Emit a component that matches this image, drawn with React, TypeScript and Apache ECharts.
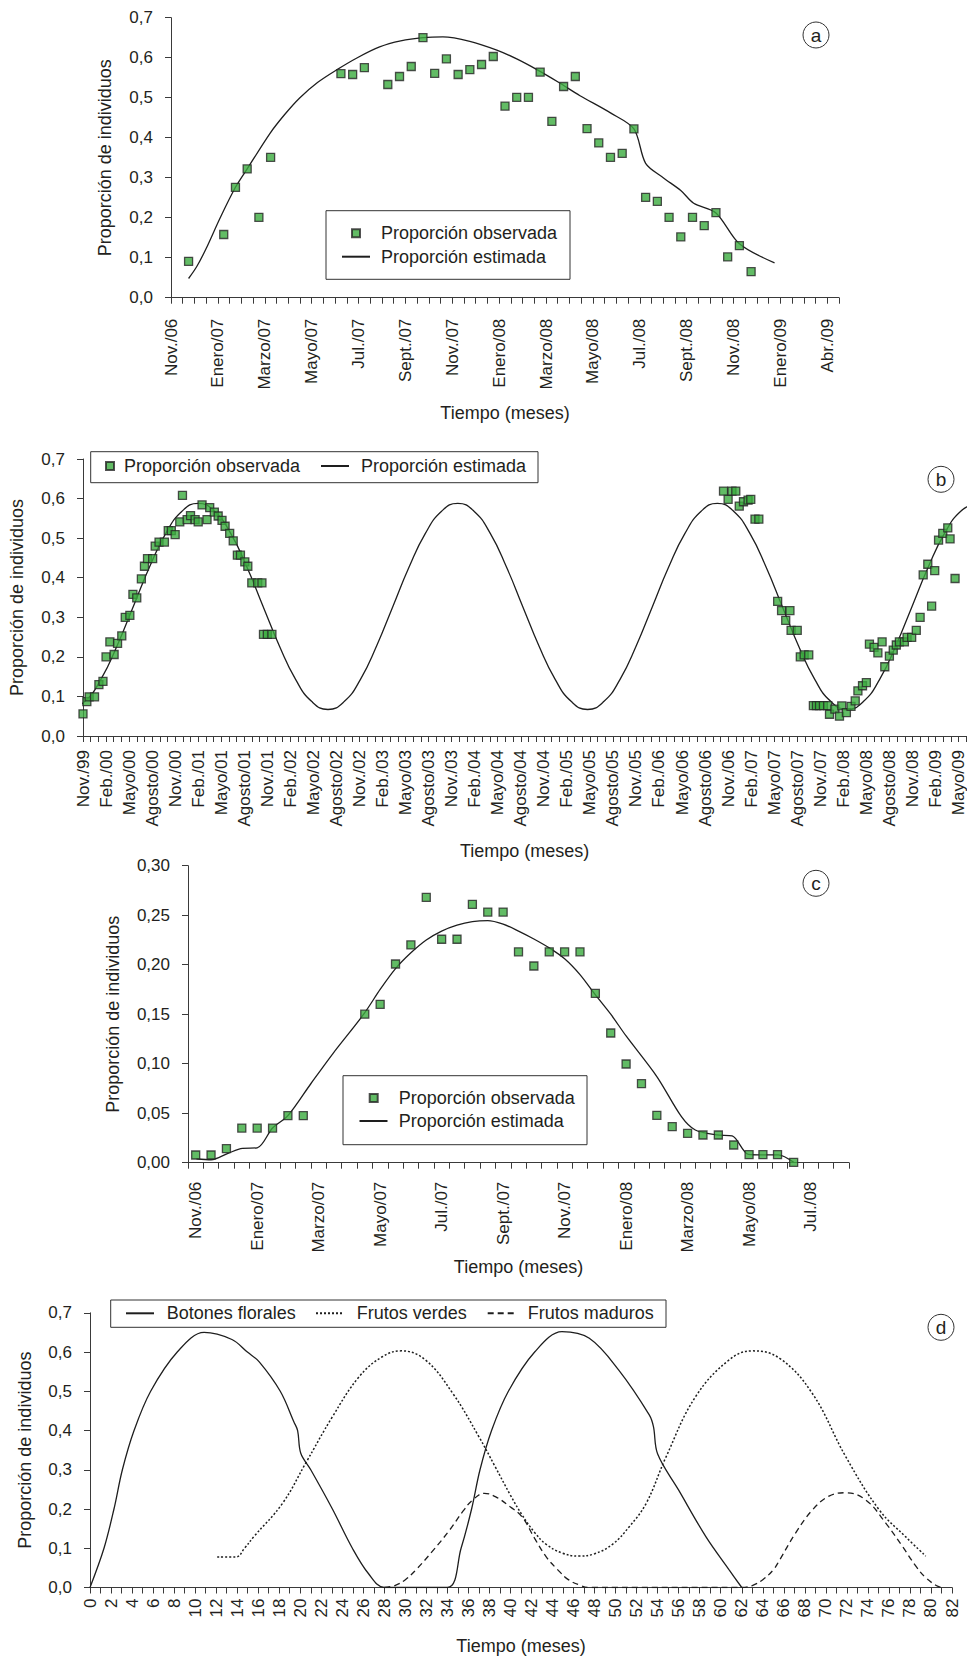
import React, { useEffect, useRef } from "react";
import * as echarts from "echarts";

const FONT = "Liberation Sans, Arial, sans-serif";
const TXT = "#231f20";
const AX = "#3a3a3a";
const GREEN = "#3bab3e";

// ---- Panel a (x in half-month ticks, 0 = Nov./06) ----
const ticksA = ["Nov./06", "Enero/07", "Marzo/07", "Mayo/07", "Jul./07", "Sept./07", "Nov./07", "Enero/08", "Marzo/08", "Mayo/08", "Jul./08", "Sept./08", "Nov./08", "Enero/09", "Abr./09"];
const obsA = [
  [1.5, 0.091], [4.5, 0.158], [5.5, 0.276], [6.5, 0.322], [7.5, 0.201], [8.5, 0.351],
  [14.5, 0.56], [15.5, 0.558], [16.5, 0.575], [18.5, 0.533], [19.5, 0.553], [20.5, 0.578],
  [21.5, 0.65], [22.5, 0.561], [23.5, 0.597], [24.5, 0.558], [25.5, 0.57], [26.5, 0.583],
  [27.5, 0.603], [28.5, 0.479], [29.5, 0.501], [30.5, 0.501], [31.5, 0.564], [32.5, 0.441],
  [33.5, 0.528], [34.5, 0.553], [35.5, 0.4225], [36.5, 0.387], [37.5, 0.351], [38.5, 0.361],
  [39.5, 0.422], [40.5, 0.251], [41.5, 0.241], [42.5, 0.201], [43.5, 0.152], [44.5, 0.201],
  [45.5, 0.18], [46.5, 0.2125], [47.5, 0.102], [48.5, 0.13], [49.5, 0.065]
];
const estA = [
  [1.5, 0.048], [2.2, 0.078], [3.0, 0.123], [4.2, 0.2], [5.5, 0.276], [6.5, 0.322], [8.45, 0.411],
  [9.7, 0.458], [11, 0.5], [12.5, 0.538], [14.1, 0.569], [15.9, 0.6], [17.8, 0.627], [19.6, 0.642],
  [21.5, 0.65], [23.2, 0.652], [25.5, 0.641], [27.8, 0.619], [29.5, 0.597], [31.3, 0.569],
  [33.1, 0.538], [34.9, 0.505], [37.5, 0.462], [39.5, 0.422], [40.5, 0.336], [42, 0.3], [43.5, 0.268],
  [44.6, 0.236], [46.5, 0.212], [48.5, 0.135], [51.5, 0.087]
];

// ---- Panel b (x in months, 0 = Nov./99) ----
const ticksB = ["Nov./99", "Feb./00", "Mayo/00", "Agosto/00", "Nov./00", "Feb./01", "Mayo/01", "Agosto/01", "Nov./01", "Feb./02", "Mayo/02", "Agosto/02", "Nov./02", "Feb./03", "Mayo/03", "Agosto/03", "Nov./03", "Feb./04", "Mayo/04", "Agosto/04", "Nov./04", "Feb./05", "Mayo/05", "Agosto/05", "Nov./05", "Feb./06", "Mayo/06", "Agosto/06", "Nov./06", "Feb./07", "Mayo/07", "Agosto/07", "Nov./07", "Feb./08", "Mayo/08", "Agosto/08", "Nov./08", "Feb./09", "Mayo/09"];
const obsB1 = [
  [0, 0.056], [0.5, 0.087], [0.8, 0.099], [1.5, 0.099], [2.07, 0.13], [2.6, 0.138], [3.0, 0.2],
  [3.5, 0.238], [4.05, 0.206], [4.5, 0.234], [5.05, 0.253], [5.5, 0.3], [6.1, 0.305], [6.5, 0.358],
  [7.0, 0.349], [7.6, 0.397], [8.0, 0.429], [8.4, 0.448], [9.07, 0.448], [9.4, 0.48], [9.9, 0.49],
  [10.6, 0.49], [11.1, 0.519], [11.5, 0.519], [12.0, 0.509], [12.6, 0.541], [12.95, 0.608],
  [13.56, 0.547], [14.0, 0.557], [14.6, 0.547], [15.0, 0.541], [15.5, 0.584], [16.15, 0.547],
  [16.5, 0.577], [17.1, 0.566], [17.6, 0.556], [18.1, 0.545], [18.5, 0.53], [19.1, 0.512],
  [19.56, 0.493], [20.1, 0.457], [20.5, 0.457], [21.07, 0.44], [21.46, 0.429], [21.98, 0.387],
  [22.75, 0.387], [23.3, 0.387], [23.5, 0.257], [24.0, 0.257], [24.6, 0.257]
];
const obsB2 = [
  [83.4, 0.619], [84.0, 0.598], [84.5, 0.619], [85.0, 0.619], [85.45, 0.581], [86.0, 0.592],
  [86.6, 0.596], [86.95, 0.598], [87.5, 0.548], [88.0, 0.548], [90.45, 0.34], [90.96, 0.317],
  [91.5, 0.292], [92.05, 0.317], [92.2, 0.267], [93.0, 0.267], [93.4, 0.2], [93.9, 0.205],
  [94.5, 0.205], [95.1, 0.077], [95.5, 0.077], [95.9, 0.077], [96.4, 0.077], [96.97, 0.077],
  [97.2, 0.055], [97.9, 0.068], [98.5, 0.05], [98.8, 0.076], [99.4, 0.059], [100.0, 0.075],
  [100.55, 0.089], [100.9, 0.114], [101.5, 0.127], [102.0, 0.135], [102.4, 0.232], [103.0, 0.224],
  [103.5, 0.21], [104.05, 0.238], [104.4, 0.175], [105.0, 0.202], [105.5, 0.217], [105.9, 0.23],
  [106.3, 0.238], [106.95, 0.238], [107.3, 0.249], [107.9, 0.249], [108.5, 0.267], [109.0, 0.3],
  [109.4, 0.407], [110.0, 0.434], [110.5, 0.328], [110.9, 0.418], [111.4, 0.495], [111.95, 0.512],
  [112.6, 0.526], [112.9, 0.498], [113.55, 0.398]
];
const estB = [
  [-1.9, 0.067], [0.21, 0.087], [2.33, 0.143], [4.44, 0.228], [6.55, 0.3275], [8.66, 0.427],
  [10.78, 0.512], [12.89, 0.568], [15.0, 0.588], [17.11, 0.568], [19.23, 0.512], [21.34, 0.427],
  [23.45, 0.3275], [25.56, 0.228], [27.68, 0.143], [29.79, 0.087], [31.9, 0.067], [34.01, 0.087],
  [36.13, 0.143], [38.24, 0.228], [40.35, 0.3275], [42.46, 0.427], [44.58, 0.512], [46.69, 0.568],
  [48.8, 0.588], [50.91, 0.568], [53.03, 0.512], [55.14, 0.427], [57.25, 0.3275], [59.36, 0.228],
  [61.48, 0.143], [63.59, 0.087], [65.7, 0.067], [67.81, 0.087], [69.93, 0.143], [72.04, 0.228],
  [74.15, 0.3275], [76.26, 0.427], [78.38, 0.512], [80.49, 0.568], [82.6, 0.588], [84.71, 0.568],
  [86.83, 0.512], [88.94, 0.427], [91.05, 0.3275], [93.16, 0.228], [95.28, 0.143], [97.39, 0.087],
  [99.5, 0.067], [101.61, 0.087], [103.73, 0.143], [105.84, 0.228], [107.95, 0.3275], [110.06, 0.427],
  [112.18, 0.512], [114.29, 0.568], [116.4, 0.588]
];

// ---- Panel c (x in half-month categories, labels centred) ----
const ticksC = ["Nov./06", "Enero/07", "Marzo/07", "Mayo/07", "Jul./07", "Sept./07", "Nov./07", "Enero/08", "Marzo/08", "Mayo/08", "Jul./08"];
const obsC = [
  [0.5, 0.0078], [1.5, 0.0078], [2.5, 0.0142], [3.5, 0.035], [4.5, 0.035], [5.5, 0.035],
  [6.5, 0.0475], [7.5, 0.0475], [11.5, 0.15], [12.5, 0.16], [13.5, 0.2007], [14.5, 0.22],
  [15.5, 0.268], [16.5, 0.2257], [17.5, 0.2257], [18.5, 0.261], [19.5, 0.2532], [20.5, 0.2532],
  [21.5, 0.213], [22.5, 0.1987], [23.5, 0.213], [24.5, 0.213], [25.5, 0.213], [26.5, 0.171],
  [27.5, 0.131], [28.5, 0.0997], [29.5, 0.0798], [30.5, 0.0479], [31.5, 0.0364], [32.5, 0.0297],
  [33.5, 0.028], [34.5, 0.028], [35.5, 0.0179], [36.5, 0.0081], [37.4, 0.0081], [38.35, 0.0081],
  [39.4, 0.0004]
];
const estC = [
  [0.55, 0.004], [1.5, 0.003], [2.6, 0.0095], [3.55, 0.0145], [4.5, 0.015], [5.5, 0.035],
  [6.5, 0.0475], [8, 0.08], [9.44, 0.1105], [11.43, 0.15], [12.5, 0.175], [13.5, 0.196], [14.5, 0.212],
  [15.5, 0.225], [16.5, 0.234], [17.5, 0.24], [18.5, 0.2435], [19.5, 0.2445], [20.5, 0.241],
  [21.5, 0.234], [22.5, 0.226], [23.5, 0.217], [24.5, 0.206], [25.5, 0.19], [26.43, 0.171],
  [27.5, 0.15], [28.5, 0.128], [30.5, 0.087], [32.1, 0.0465], [33.0, 0.033], [34.4, 0.028],
  [35.4, 0.027], [36.45, 0.0085], [37.4, 0.008], [38.4, 0.008], [39.4, 0.0004]
];

// ---- Panel d (x in months) ----
const ticksD = ["0", "2", "4", "6", "8", "10", "12", "14", "16", "18", "20", "22", "24", "26", "28", "30", "32", "34", "36", "38", "40", "42", "44", "46", "48", "50", "52", "54", "56", "58", "60", "62", "64", "66", "68", "70", "72", "74", "76", "78", "80", "82"];
const botones = [
  [0, 0], [1.33, 0.1], [2.28, 0.2], [3.08, 0.3], [4.19, 0.4], [5.77, 0.5], [8.3, 0.6], [10.85, 0.65],
  [13.5, 0.632], [14.97, 0.6], [16.1, 0.575], [18.1, 0.5], [19.4, 0.422], [19.75, 0.4], [20.05, 0.342],
  [21.0, 0.3], [23.06, 0.2], [24.96, 0.1], [26.5, 0.035], [28, 0], [34, 0], [35.3, 0.1], [36.3, 0.2],
  [37.1, 0.3], [38.2, 0.4], [39.8, 0.5], [42.3, 0.6], [44.9, 0.652], [47.5, 0.635], [50.3, 0.554],
  [53.2, 0.44], [53.6, 0.41], [54.0, 0.34], [56, 0.248], [58.6, 0.129], [60.8, 0.045], [62, 0]
];
const verdes = [
  [12.1, 0.078], [13.9, 0.078], [14.7, 0.1], [15.6, 0.13], [18.3, 0.214], [20.5, 0.316], [23.06, 0.435],
  [25.6, 0.537], [27.8, 0.588], [29.6, 0.603], [31.9, 0.58], [34.5, 0.495], [37, 0.384],
  [38.5, 0.31], [40, 0.235], [41.1, 0.185], [42.3, 0.14], [43.4, 0.11], [44.9, 0.088], [46.5, 0.08],
  [48, 0.086], [49.7, 0.11], [51.3, 0.155], [52.9, 0.214], [54.8, 0.333], [57.6, 0.486], [60.8, 0.58],
  [63, 0.603], [65.6, 0.584], [68.7, 0.495], [71.9, 0.333], [75.1, 0.197], [77.6, 0.129], [79.5, 0.08]
];
const maduros = [
  [28, 0], [29, 0.005], [30, 0.02], [31, 0.045], [32.5, 0.09], [34.2, 0.146], [35.5, 0.195],
  [36.4, 0.223], [37.5, 0.24], [38.6, 0.231], [40, 0.205], [41.1, 0.18], [42.3, 0.125], [43.4, 0.078],
  [44.5, 0.045], [45.5, 0.02], [46.5, 0.007], [47.5, 0], [62, 0], [63, 0.005], [64, 0.02], [65, 0.045],
  [65.6, 0.07], [67.1, 0.138], [68.7, 0.197], [70.3, 0.233], [71.9, 0.2415], [73.8, 0.223],
  [75.7, 0.164], [77.3, 0.104], [78.6, 0.053], [79.5, 0.025], [80.5, 0.005], [81, 0]
];

const OBS = "Proporción observada";
const EST = "Proporción estimada";
const YNAME = "Proporción de individuos";
const XNAME = "Tiempo (meses)";

const axisLine = { lineStyle: { color: AX, width: 1 } };
const axisTick = { length: 6, lineStyle: { color: AX, width: 1 } };
const tickText = { fontSize: 17, fontFamily: FONT, color: TXT };
const nameText = { fontSize: 18, fontFamily: FONT, color: TXT };

function yAx(grid: number, max: number, interval: number, digits: number, gap: number) {
  return {
    type: "value", gridIndex: grid, min: 0, max, interval,
    axisLine: { show: true, ...axisLine }, axisTick, splitLine: { show: false },
    axisLabel: { ...tickText, margin: 18, formatter: (v: number) => v.toFixed(digits).replace(".", ",") },
    name: YNAME, nameLocation: "middle", nameGap: gap, nameTextStyle: nameText
  };
}

function xAx(grid: number, max: number, margin: number, gap: number, fmt: (v: number) => string) {
  return {
    type: "value", gridIndex: grid, min: 0, max, interval: 1, position: "bottom",
    axisLine: { show: true, onZero: false, ...axisLine }, axisTick, splitLine: { show: false },
    axisLabel: { ...tickText, rotate: 90, margin, formatter: fmt },
    name: XNAME, nameLocation: "middle", nameGap: gap, nameTextStyle: nameText
  };
}

const scatter = (x: number, y: number, data: number[][]) => ({
  type: "scatter", name: OBS, xAxisIndex: x, yAxisIndex: y, data, symbol: "rect", symbolSize: 8, z: 4,
  itemStyle: { color: GREEN, borderColor: "#262626", borderWidth: 1.3 }
});
const line = (name: string, x: number, y: number, data: number[][], type: any, smooth: number, width = 1.3) => ({
  type: "line", name, xAxisIndex: x, yAxisIndex: y, data, symbol: "none", smooth, z: 3,
  lineStyle: { color: "#1e1e1e", width, type }, itemStyle: { color: "#1e1e1e" }
});

// legend entry for a marker (square) item
function legSym(name: string, cx: number, cy: number, textX: number) {
  const left = cx - 4;
  return {
    data: [name], left, top: cy - 9, orient: "horizontal", itemWidth: 8, itemHeight: 8, padding: 0,
    selectedMode: false,
    textStyle: { fontSize: 18, fontFamily: FONT, color: TXT, padding: [0, 0, 0, textX - (left + 13)] }
  };
}
// legend entry for a line item (no centre marker)
function legLine(name: string, left: number, cy: number, w: number, textX: number) {
  return {
    data: [name], left, top: cy - 9, orient: "horizontal", itemWidth: w, itemHeight: 8, padding: 0,
    selectedMode: false,
    itemStyle: { color: "rgba(0,0,0,0)", borderColor: "rgba(0,0,0,0)", borderWidth: 0, opacity: 0 },
    textStyle: { fontSize: 18, fontFamily: FONT, color: TXT, padding: [0, 0, 0, textX - (left + w + 5)] }
  };
}

const box = (x: number, y: number, w: number, h: number) => ({
  type: "rect", shape: { x, y, width: w, height: h }, silent: true,
  style: { fill: "transparent", stroke: "#333", lineWidth: 1 }
});
const badge = (cx: number, cy: number, t: string) => [
  { type: "circle", shape: { cx, cy, r: 13 }, silent: true, style: { fill: "transparent", stroke: "#333", lineWidth: 1 } },
  { type: "text", x: cx, y: cy, silent: true, style: { text: t, align: "center", verticalAlign: "middle", fontSize: 19, fontFamily: FONT, fill: TXT } }
];

export default function App() {
  const ref = useRef<HTMLDivElement>(null);
  useEffect(() => {
    if (!ref.current) return;
    const chart = echarts.init(ref.current, null, { renderer: "svg" });
    const option: any = {
      animation: false,
      backgroundColor: "#ffffff",
      textStyle: { fontFamily: FONT },
      grid: [
        { left: 171, top: 17.7, width: 668, height: 280 },
        { left: 81, top: 459, width: 887, height: 277 },
        { left: 188, top: 865.7, width: 661, height: 297 },
        { left: 90, top: 1312.8, width: 862, height: 274.7 }
      ],
      xAxis: [
        xAx(0, 57, 21, 106, (v: number) => (v % 4 === 0 ? ticksA[v / 4] ?? "" : "")),
        xAx(1, 115, 14, 106, (v: number) => (v % 3 === 0 ? ticksB[v / 3] ?? "" : "")),
        { ...xAx(2, 43, 19, 95, () => ""), axisLabel: { show: false } },
        {
          type: "value", gridIndex: 2, min: 0, max: 43, interval: 0.5, position: "bottom",
          axisLine: { show: false }, axisTick: { show: false }, splitLine: { show: false },
          axisLabel: {
            ...tickText, rotate: 90, margin: 19,
            formatter: (v: number) => {
              const k = (Math.round(v * 2) / 2 - 0.5) / 4;
              return Number.isInteger(k) && k >= 0 ? ticksC[k] ?? "" : "";
            }
          }
        },
        xAx(3, 82, 11, 49, (v: number) => (v % 2 === 0 ? ticksD[v / 2] ?? "" : ""))
      ],
      yAxis: [
        yAx(0, 0.7, 0.1, 1, 57),
        yAx(1, 0.7, 0.1, 1, 57),
        yAx(2, 0.3, 0.05, 2, 66),
        yAx(3, 0.7, 0.1, 1, 56)
      ],
      legend: [
        legSym(OBS, 355, 233.3, 380),
        legLine(EST, 341, 256.7, 28, 380),
        legSym(OBS, 109, 466, 123),
        legLine(EST, 320, 466, 28, 360),
        legSym(OBS, 372.7, 1098, 397.7),
        legLine(EST, 358.5, 1121, 28, 397.7),
        legLine("Botones florales", 125, 1313.3, 28, 165.7),
        legLine("Frutos verdes", 315, 1313.3, 28, 355.7),
        legLine("Frutos maduros", 486.7, 1313.3, 28, 526.7)
      ],
      graphic: [
        box(326, 210.7, 244, 68.6),
        box(90.7, 451.7, 447.3, 31),
        box(343, 1075.7, 244, 69),
        box(110.7, 1300, 555.3, 27.3),
        ...badge(816, 35, "a"),
        ...badge(941, 479.3, "b"),
        ...badge(816, 883.3, "c"),
        ...badge(941, 1327.3, "d")
      ],
      series: [
        line(EST, 0, 0, estA, "solid", 0.3),
        scatter(0, 0, obsA),
        line(EST, 1, 1, estB, "solid", 0.5),
        scatter(1, 1, obsB1),
        scatter(1, 1, obsB2),
        line(EST, 2, 2, estC, "solid", 0.3),
        scatter(2, 2, obsC),
        line("Botones florales", 4, 3, botones, "solid", 0.35),
        line("Frutos verdes", 4, 3, verdes, [2, 2], 0.4, 1.5),
        line("Frutos maduros", 4, 3, maduros, [6, 4], 0.4)
      ]
    };
    chart.setOption(option);
    return () => chart.dispose();
  }, []);
  return (
    <div
      ref={ref}
      style={{ position: "absolute", left: 0, top: 0, width: 967, height: 1656, background: "#fff" }}
    />
  );
}
